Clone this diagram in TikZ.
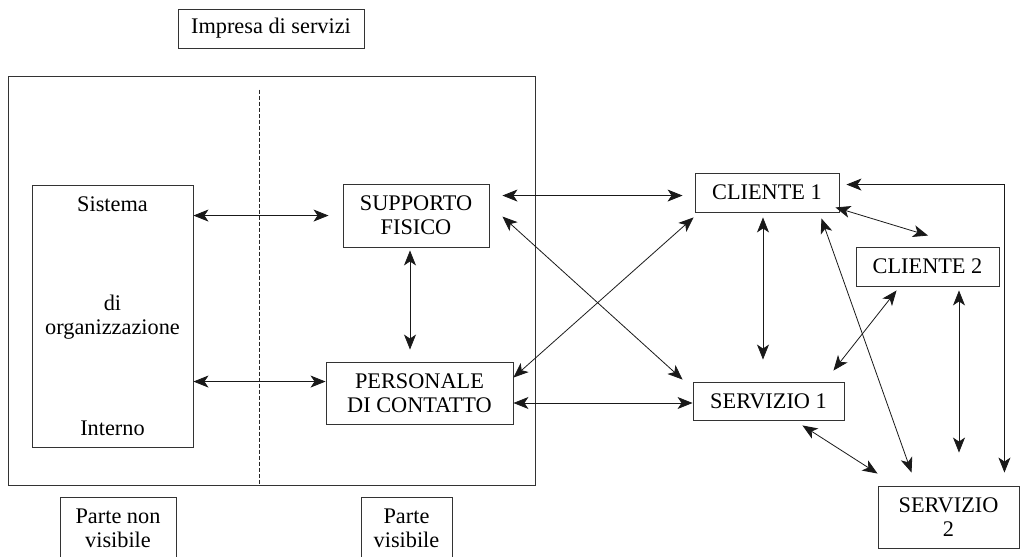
\documentclass[tikz,border=0pt]{standalone}
\usepackage{fontspec}
\setmainfont{Liberation Serif}
\usetikzlibrary{arrows.meta,calc}
\begin{document}
\begin{tikzpicture}[x=1pt,y=-1pt,
  font=\fontsize{22.3}{24}\selectfont,
  box/.style={draw=black!80, line width=0.9pt, inner sep=0pt, align=center},
  lbl/.style={inner sep=0pt, anchor=base},
  arr/.style={line width=0.8pt, draw=black!90,
    {Stealth[length=15pt,width=12pt,inset=4pt]}-{Stealth[length=15pt,width=12pt,inset=4pt]}},
  sep/.style={line width=0.6pt, draw=black!85, dash pattern=on 4pt off 2pt}]
\clip (0,0) rectangle (1021,557);
% boxes
\node[box, minimum width=186pt, minimum height=39pt] (impresa) at (271,28.5) {Impresa di servizi};
\node[box, minimum width=527pt, minimum height=409pt] (outer) at (271.5,280.5) {};
\draw[sep] ($(outer.north west)+(252,14)$) -- ($(outer.south west)+(252,0)$);
\node[box, minimum width=161pt, minimum height=262pt] (sistema) at (112.5,316) {};
\node[lbl] (t1) at (112.5,211) {Sistema};
\node[lbl] (t2) at (112.5,310) {di};
\node[lbl] (t3) at (112.5,334) {organizzazione};
\node[lbl] (t4) at (112.5,435) {Interno};
\node[box, minimum width=146pt, minimum height=63pt] (supp) at (416,215.5) {SUPPORTO\\FISICO};
\node[box, minimum width=187pt, minimum height=62pt] (pers) at (419.5,393) {PERSONALE\\DI CONTATTO};
\node[box, minimum width=144pt, minimum height=39pt] (cl1) at (767,192.5) {CLIENTE 1};
\node[box, minimum width=143pt, minimum height=39pt] (cl2) at (927.5,266.5) {CLIENTE 2};
\node[box, minimum width=151pt, minimum height=38pt] (s1) at (768.5,401) {SERVIZIO 1};
\node[box, minimum width=141pt, minimum height=62pt] (s2) at (948.5,517) {SERVIZIO\\2};
\node[box, minimum width=116pt, minimum height=63pt] (pnv) at (118,528.5) {Parte non\\visibile};
\node[box, minimum width=91pt, minimum height=63pt] (pv) at (406.5,528.5) {Parte\\visibile};
% connectors
\draw[arr] ($(sistema.north east)+(0,31)$) -- ($(supp.north west)+(-14,32)$);
\draw[arr] ($(sistema.north east)+(0,197)$) -- ($(pers.north west)+(0,20)$);
\draw[arr] ($(supp.south)+(-6,3)$) -- ($(pers.north)+(-9.5,-12)$);
\draw[arr] ($(supp.north east)+(13,12)$) -- ($(cl1.north west)+(-12,23)$);
\draw[arr] ($(supp.north east)+(13,33)$) -- ($(s1.north west)+(-10,-2)$);
\draw[arr] ($(pers.north east)+(0,16)$) -- ($(cl1.south west)+(-1,5)$);
\draw[arr] ($(pers.east)+(0,10)$) -- ($(s1.west)+(0,2)$);
\draw[arr] ($(cl1.south)+(-4,5)$) -- ($(s1.north)+(-5.5,-22)$);
\draw[arr] ($(cl1.south east)+(-4,-5)$) -- ($(cl2.north)+(0.5,-11)$);
\draw[arr] ($(cl2.south west)+(41,4)$) -- ($(s1.north east)+(-11,-11)$);
\draw[arr] ($(cl1.south east)+(-18,6)$) -- ($(s2.north west)+(34,-13)$);
\draw[arr] ($(cl2.south)+(31.5,4)$) -- ($(s2.north)+(10.5,-33)$);
\draw[arr] ($(s2.north east)+(-15,-13)$) |- ($(cl1.north east)+(7,12)$);
\draw[arr] ($(s1.south east)+(-42,5)$) -- ($(s2.north west)+(0,-12)$);
\end{tikzpicture}
\end{document}
